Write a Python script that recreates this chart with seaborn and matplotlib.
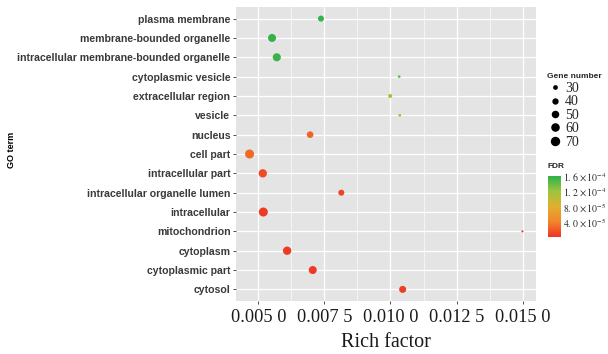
import numpy as np
import pandas as pd
import matplotlib
matplotlib.use("Agg")
import matplotlib.pyplot as plt
import seaborn as sns
from matplotlib.colors import LinearSegmentedColormap, Normalize
from matplotlib.cm import ScalarMappable
from matplotlib.ticker import FixedLocator

# ---------------- data ----------------
terms = ["plasma membrane", "membrane-bounded organelle",
         "intracellular membrane-bounded organelle", "cytoplasmic vesicle",
         "extracellular region", "vesicle", "nucleus", "cell part",
         "intracellular part", "intracellular organelle lumen", "intracellular",
         "mitochondrion", "cytoplasm", "cytoplasmic part", "cytosol"]
rich_factor = [0.00737, 0.00552, 0.00570, 0.01033, 0.00999, 0.01035, 0.00696,
               0.00467, 0.00517, 0.00814, 0.00519, 0.01499, 0.00609, 0.00706,
               0.01046]
gene_number = [49, 70, 71, 27, 34, 28, 55, 83, 74, 49, 83, 25, 74, 70, 59]
fdr = [1.58e-4, 1.60e-4, 1.57e-4, 1.45e-4, 1.20e-4, 1.08e-4, 2.4e-5, 2.6e-5,
       1.2e-5, 8e-6, 3e-6, 2e-6, 2e-6, 3e-6, 4e-6]

x_ticks = [0.005, 0.0075, 0.010, 0.0125, 0.015]
x_tick_labels = ["0.005 0", "0.007 5", "0.010 0", "0.012 5", "0.015 0"]
size_breaks = [30, 40, 50, 60, 70]
fdr_breaks = [4.0e-5, 8.0e-5, 1.2e-4, 1.6e-4]
fdr_break_labels = [r"$\mathrm{4.\,0\times 10^{-5}}$", r"$\mathrm{8.\,0\times 10^{-5}}$",
                    r"$\mathrm{1.\,2\times 10^{-4}}$", r"$\mathrm{1.\,6\times 10^{-4}}$"]

df = pd.DataFrame({"term": terms, "rich": rich_factor,
                   "genes": gene_number, "fdr": fdr})

# ---------------- style ----------------
sns.set_theme(style="white")
plt.rcParams["font.family"] = ["Liberation Sans", "DejaVu Sans"]
plt.rcParams["mathtext.fontset"] = "stix"

cmap = LinearSegmentedColormap.from_list(
    "fdr", [(0.0, "#EE3524"), (0.25, "#F2852A"), (0.5, "#E2AF2E"),
            (0.75, "#9DC53D"), (1.0, "#2EB14B")])
norm = Normalize(vmin=0.0, vmax=1.62e-4)


def area(v):
    # marker area (pt^2) as a function of gene number (area linear in value)
    return 0.5184 * (-28.9 + 1.33 * v)


fig = plt.figure(figsize=(6.08, 3.54), dpi=100)
fig.patch.set_facecolor("white")
ax = fig.add_axes([236 / 608, 1 - 301 / 354, 300 / 608, 294 / 354])
ax.set_facecolor("#E4E4E4")

gmin, gmax = min(gene_number), max(gene_number)
sns.scatterplot(data=df, x="rich", y="term", hue="fdr", size="genes",
                palette=cmap, hue_norm=norm,
                sizes=(area(gmin), area(gmax)), size_norm=(gmin, gmax),
                linewidth=0, legend=False, ax=ax, zorder=3)

ax.set_xlim(0.004157, 0.015503)
ax.set_ylim(len(terms) - 0.4, -0.6)
ax.xaxis.set_major_locator(FixedLocator(x_ticks))
ax.set_xticklabels(x_tick_labels, family="Liberation Serif", fontsize=13.2,
                   color="#1a1a1a")
ax.xaxis.set_minor_locator(FixedLocator([0.00625, 0.00875, 0.01125, 0.01375]))
ax.grid(True, which="major", color="white", linewidth=0.9)
ax.grid(True, which="minor", axis="x", color="white", linewidth=0.45)
ax.set_axisbelow(True)
for sp in ax.spines.values():
    sp.set_visible(False)
ax.tick_params(axis="y", which="major", length=2.5, width=0.6, color="#333333",
               pad=1.5, labelsize=7.6, labelcolor="#3a3a3a", left=True)
ax.tick_params(axis="x", which="major", length=2.5, width=0.6, color="#333333",
               pad=3, bottom=True)
ax.tick_params(axis="x", which="minor", length=0)
for lab in ax.get_yticklabels():
    lab.set_fontweight("bold")
ax.set_ylabel("")
ax.set_xlabel("Rich factor", family="Liberation Serif", fontsize=14.5,
              color="#1a1a1a", labelpad=5)
fig.text(11 / 608, 1 - 150 / 354, "GO term", rotation=90, fontsize=6.5,
         fontweight="bold", ha="center", va="center", color="black")

# ---------------- size legend ----------------
fig.text(547 / 608, 1 - 76 / 354, "Gene number", fontsize=6, fontweight="bold",
         ha="left", va="center")
handles = [plt.Line2D([], [], marker="o", ls="", color="black",
                      markersize=np.sqrt(area(v))) for v in size_breaks]
leg = fig.legend(handles, [str(v) for v in size_breaks],
                 loc="upper left", bbox_to_anchor=(549 / 608, 1 - 82 / 354),
                 frameon=False,
                 prop={"family": "Liberation Serif", "size": 10},
                 handlelength=0.8, handletextpad=0.35, labelspacing=0.03,
                 borderpad=0, borderaxespad=0)

# ---------------- colour bar ----------------
cax = fig.add_axes([548 / 608, 1 - 237 / 354, 13 / 608, 61 / 354])
cb = fig.colorbar(ScalarMappable(norm=norm, cmap=cmap), cax=cax)
cb.outline.set_visible(False)
cb.set_ticks(fdr_breaks)
cb.set_ticklabels(fdr_break_labels)
cax.tick_params(which="both", direction="in", length=2.5, width=0.6,
                color="white", labelsize=7, pad=1.5, left=True, right=True)
fig.text(547 / 608, 1 - 167 / 354, "FDR", fontsize=6, fontweight="bold",
         ha="left", va="center")

fig.savefig("out.png", dpi=100, facecolor="white")
